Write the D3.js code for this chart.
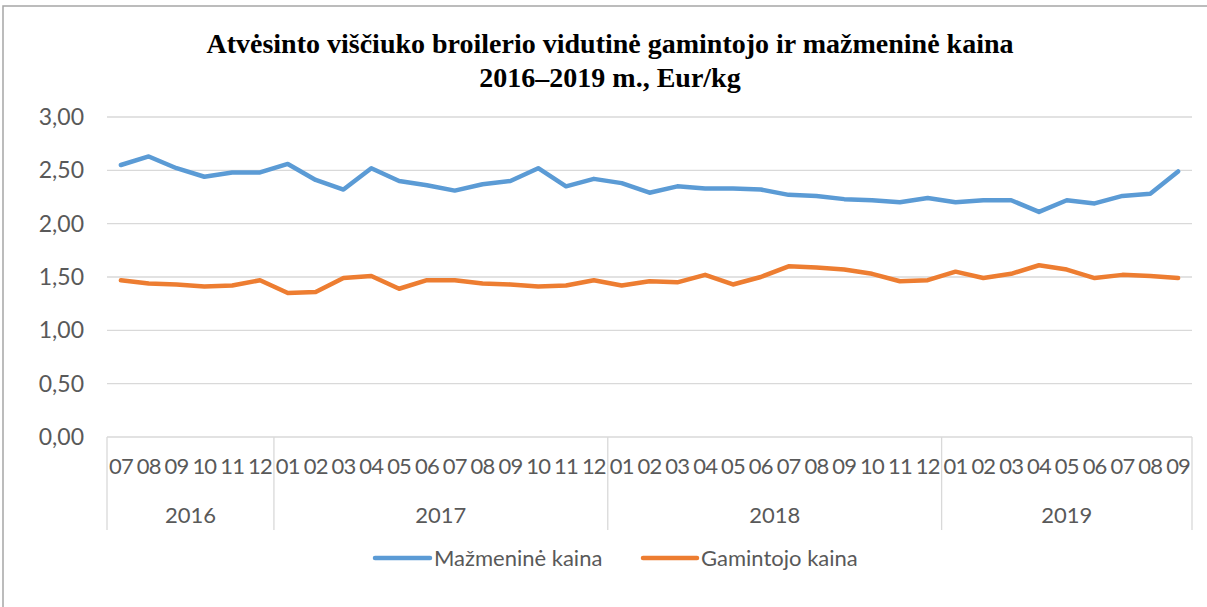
<!DOCTYPE html>
<html><head><meta charset="utf-8">
<script src="https://cdn.jsdelivr.net/npm/d3@7"></script>
<style>
html,body{margin:0;padding:0;background:#fff;}
svg{display:block;}
</style></head>
<body>
<svg id="c" width="1207" height="607"></svg>
<script>
const titleLines = ["Atvėsinto viščiuko broilerio vidutinė gamintojo ir mažmeninė kaina", "2016–2019 m., Eur/kg"];
const years = ["2016", "2017", "2018", "2019"];
const yearMonths = [
  ["07","08","09","10","11","12"],
  ["01","02","03","04","05","06","07","08","09","10","11","12"],
  ["01","02","03","04","05","06","07","08","09","10","11","12"],
  ["01","02","03","04","05","06","07","08","09"]
];
const retail = [2.55,2.63,2.52,2.44,2.48,2.48,2.56,2.41,2.32,2.52,2.40,2.36,2.31,2.37,
  2.40,2.52,2.35,2.42,2.38,2.29,2.35,2.33,2.33,2.32,2.27,2.26,2.23,2.22,
  2.20,2.24,2.20,2.22,2.22,2.11,2.22,2.19,2.26,2.28,2.49];
const producer = [1.47,1.44,1.43,1.41,1.42,1.47,1.35,1.36,1.49,1.51,1.39,1.47,1.47,1.44,
  1.43,1.41,1.42,1.47,1.42,1.46,1.45,1.52,1.43,1.50,1.60,1.59,1.57,1.53,
  1.46,1.47,1.55,1.49,1.53,1.61,1.57,1.49,1.52,1.51,1.49];
const seriesNames = ["Mažmeninė kaina", "Gamintojo kaina"];
const colors = ["#5B9BD5", "#ED7D31"];
const yTicks = [0, 0.5, 1, 1.5, 2, 2.5, 3];

(function () {
const cats = [];
yearMonths.forEach((ms, yi) => ms.forEach(m => cats.push(years[yi] + "-" + m)));

const svg = d3.select("#c");
const W = 1207, H = 607;
const pLeft = 107, pRight = 1192, pTop = 117, pBottom = 437;
const labelColor = "#595959";
const font = "Lato, 'Noto Sans', sans-serif";

// frame
svg.append("path").attr("d", `M3,${H+2} L3,6 L${W+2},6`).attr("fill","none")
  .attr("stroke","#a6a6a6").attr("stroke-width",1.5);

// title
const title = svg.append("text").attr("x", 610).attr("text-anchor","middle")
  .attr("font-family","'Liberation Serif','Times New Roman',serif").attr("font-weight","bold")
  .attr("font-size", 28).attr("fill","#000");
titleLines.forEach((t,i) => title.append("tspan").attr("x",610).attr("y", 53 + i*34).text(t));

const x = d3.scaleBand().domain(cats).range([pLeft, pRight]).padding(0);
const y = d3.scaleLinear().domain([0, 3]).range([pBottom, pTop]);

// gridlines
svg.append("g").selectAll("line").data(yTicks).join("line")
  .attr("x1", pLeft).attr("x2", pRight)
  .attr("y1", d => y(d)).attr("y2", d => y(d))
  .attr("stroke", "#d9d9d9").attr("stroke-width", 1.3);

// y labels
const fmt = d => d.toFixed(2).replace(".", ",");
svg.append("g").selectAll("text").data(yTicks).join("text")
  .attr("x", 84).attr("y", d => y(d)).attr("dy","0.35em")
  .attr("text-anchor","end").attr("font-family",font).attr("font-size",23)
  .attr("fill",labelColor).text(fmt);

// month labels
svg.append("g").selectAll("text").data(cats).join("text")
  .attr("x", d => x(d) + x.bandwidth()/2).attr("y", 466).attr("dy","0.35em")
  .attr("text-anchor","middle").attr("font-family",font).attr("font-size",22)
  .attr("letter-spacing", -0.8)
  .attr("fill",labelColor).text(d => d.split("-")[1]);

// year separators and labels
let idx = 0;
const bounds = [];
yearMonths.forEach((ms, yi) => {
  const a = cats[idx], b = cats[idx + ms.length - 1];
  bounds.push({year: years[yi], x0: x(a), x1: x(b) + x.bandwidth()});
  idx += ms.length;
});
const sepX = [bounds[0].x0].concat(bounds.map(b => b.x1));
svg.append("g").selectAll("line").data(sepX).join("line")
  .attr("x1", d => d).attr("x2", d => d).attr("y1", pBottom).attr("y2", 530)
  .attr("stroke", "#d9d9d9").attr("stroke-width", 1.3);
svg.append("g").selectAll("text").data(bounds).join("text")
  .attr("x", d => (d.x0 + d.x1)/2).attr("y", 515).attr("dy","0.35em")
  .attr("text-anchor","middle").attr("font-family",font).attr("font-size",22)
  .attr("fill",labelColor).text(d => d.year);

// lines
const line = d3.line().x((d,i) => x(cats[i]) + x.bandwidth()/2).y(d => y(d));
[retail, producer].forEach((s, i) => {
  svg.append("path").datum(s).attr("d", line).attr("fill","none")
    .attr("stroke", colors[i]).attr("stroke-width", 4.5)
    .attr("stroke-linejoin","round").attr("stroke-linecap","round");
});

// legend
const legendItems = [{x0: 375, x1: 430, tx: 434}, {x0: 643, x1: 697, tx: 701}];
legendItems.forEach((l, i) => {
  svg.append("line").attr("x1", l.x0).attr("x2", l.x1).attr("y1", 558).attr("y2", 558)
    .attr("stroke", colors[i]).attr("stroke-width", 4.5).attr("stroke-linecap","round");
  svg.append("text").attr("x", l.tx).attr("y", 558).attr("dy","0.35em")
    .attr("font-family",font).attr("font-size",22).attr("fill",labelColor).text(seriesNames[i]);
});
})();
</script>
</body></html>
